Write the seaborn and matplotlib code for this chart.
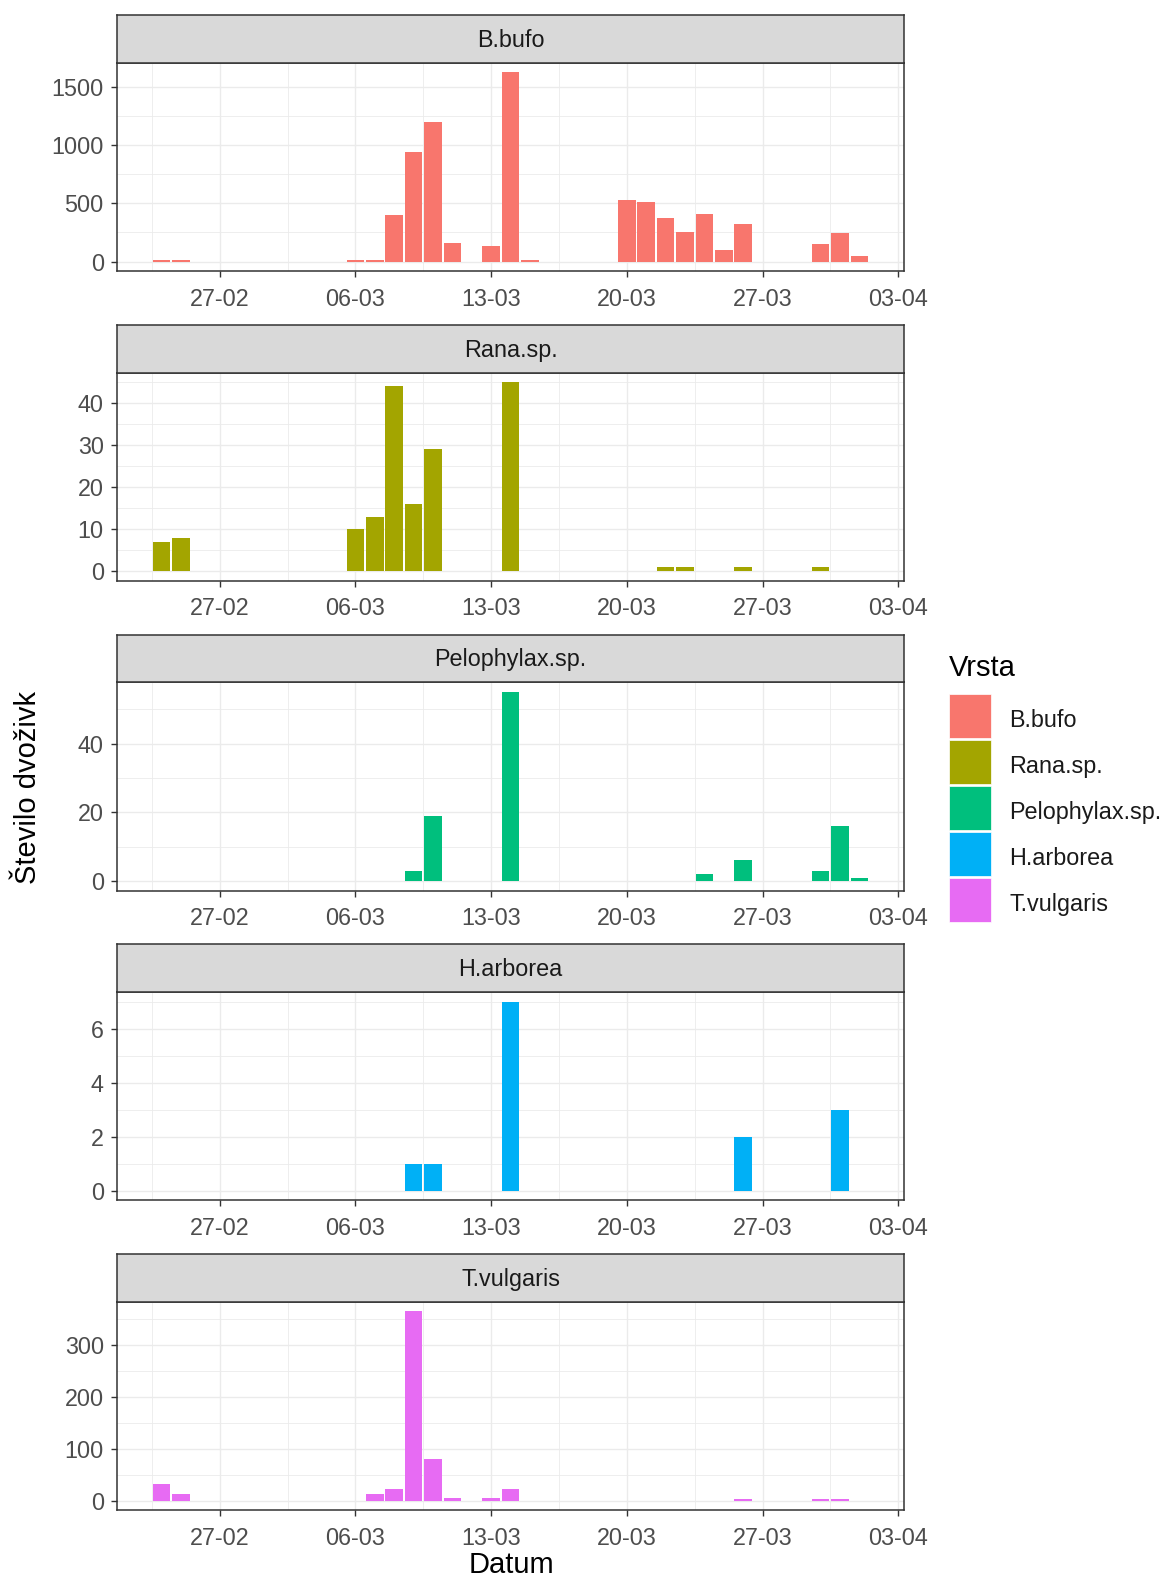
import numpy as np
import pandas as pd
import matplotlib
matplotlib.use('Agg')
import matplotlib.pyplot as plt
import matplotlib.dates as mdates
from matplotlib.patches import Rectangle
from matplotlib.ticker import FixedLocator
import seaborn as sns

# Data: daily counts per species (only non-zero days)
YEAR = 2021
species = ['B.bufo', 'Rana.sp.', 'Pelophylax.sp.', 'H.arborea', 'T.vulgaris']
colors = ['#F8766D', '#A3A500', '#00BF7D', '#00B0F6', '#E76BF3']

bufo_dates = ['24-02', '25-02', '06-03', '07-03', '08-03', '09-03', '10-03', '11-03',
              '13-03', '14-03', '15-03', '20-03', '21-03', '22-03', '23-03', '24-03',
              '25-03', '26-03', '30-03', '31-03', '01-04']
bufo_counts = [17, 17, 12, 12, 395, 940, 1193, 156, 136, 1622, 15, 528, 508, 375, 256,
               409, 102, 324, 153, 241, 51]

rana_dates = ['24-02', '25-02', '06-03', '07-03', '08-03', '09-03', '10-03', '14-03',
              '22-03', '23-03', '26-03', '30-03']
rana_counts = [7, 8, 10, 13, 44, 16, 29, 45, 1, 1, 1, 1]

pelo_dates = ['09-03', '10-03', '14-03', '24-03', '26-03', '30-03', '31-03', '01-04']
pelo_counts = [3, 19, 55, 2, 6, 3, 16, 1]

hyla_dates = ['09-03', '10-03', '14-03', '26-03', '31-03']
hyla_counts = [1, 1, 7, 2, 3]

trit_dates = ['24-02', '25-02', '07-03', '08-03', '09-03', '10-03', '11-03', '13-03',
              '14-03', '26-03', '30-03', '31-03']
trit_counts = [32, 12, 12, 23, 365, 80, 4, 4, 23, 3, 3, 3]

y_ticks = [[0, 500, 1000, 1500], [0, 10, 20, 30, 40], [0, 20, 40], [0, 2, 4, 6],
           [0, 100, 200, 300]]
x_tick_labels = ['27-02', '06-03', '13-03', '20-03', '27-03', '03-04']

all_dates = [bufo_dates, rana_dates, pelo_dates, hyla_dates, trit_dates]
all_counts = [bufo_counts, rana_counts, pelo_counts, hyla_counts, trit_counts]


def to_num(d):
    return mdates.date2num(pd.to_datetime(f'{d}-{YEAR}', format='%d-%m-%Y'))


frames = []
for sp, ds, cs in zip(species, all_dates, all_counts):
    frames.append(pd.DataFrame({'Vrsta': sp, 'x': [to_num(d) for d in ds], 'n': cs}))
df = pd.concat(frames, ignore_index=True)

# shared x range like ggplot (bar width 0.9, 5% expansion)
lo = df['x'].min() - 0.45
hi = df['x'].max() + 0.45
pad = 0.05 * (hi - lo)
xlim = (lo - pad, hi + pad)
x_major = [to_num(d) for d in x_tick_labels]
x_minor = [v - 3.5 for v in x_major] + [x_major[-1] + 3.5]

W, H = 1168, 1582
fig = plt.figure(figsize=(W / 100, H / 100), dpi=100)
plt.rcParams['font.family'] = ['Liberation Sans', 'DejaVu Sans']

TICK = 16.8
TITLE = 21
left, right = 117, 904
for i, sp in enumerate(species):
    stop = 15 + i * 309.75
    ptop = stop + 48
    pbot = ptop + 208
    ax = fig.add_axes([left / W, 1 - pbot / H, (right - left) / W, 208 / H])
    sub = df[df['Vrsta'] == sp]
    sns.barplot(data=sub, x='x', y='n', native_scale=True, width=0.9, color=colors[i],
                saturation=1, linewidth=0, errorbar=None, ax=ax)
    ymax = sub['n'].max()
    ax.set_ylim(-0.05 * ymax, 1.05 * ymax)
    ax.set_xlim(*xlim)
    yt = y_ticks[i]
    step = yt[1] - yt[0]
    ax.yaxis.set_major_locator(FixedLocator(yt))
    ax.yaxis.set_minor_locator(FixedLocator([v + step / 2 for v in yt] + [yt[-1] + 1.5 * step]))
    ax.xaxis.set_major_locator(FixedLocator(x_major))
    ax.xaxis.set_minor_locator(FixedLocator(x_minor))
    ax.set_xticklabels(x_tick_labels)
    ax.grid(which='major', color='#EBEBEB', lw=1.0)
    ax.grid(which='minor', color='#EBEBEB', lw=0.6)
    ax.set_axisbelow(True)
    ax.set_xlabel('')
    ax.set_ylabel('')
    for s in ax.spines.values():
        s.set_color('#333333')
        s.set_linewidth(1.1)
    ax.tick_params(which='major', direction='out', length=4, width=1, color='#333333',
                   labelsize=TICK, labelcolor='#4D4D4D')
    ax.tick_params(axis='x', which='major', pad=8)
    ax.tick_params(axis='y', which='major', pad=5.5)
    ax.tick_params(which='minor', length=0)

    strip = fig.add_axes([left / W, 1 - ptop / H, (right - left) / W, 48 / H])
    strip.set_facecolor('#D9D9D9')
    strip.set_xticks([])
    strip.set_yticks([])
    for s in strip.spines.values():
        s.set_color('#333333')
        s.set_linewidth(1.1)
    strip.text(0.5, 0.47, sp, ha='center', va='center', fontsize=TICK, color='#1A1A1A',
               transform=strip.transAxes)

fig.text(28 / W, 1 - 787 / H, 'Število dvoživk', rotation=90, ha='center', va='center',
         fontsize=TITLE, color='black')
fig.text(511 / W, 1 - 1565 / H, 'Datum', ha='center', va='center', fontsize=TITLE,
         color='black')

# legend
fig.text(949 / W, 1 - 668 / H, 'Vrsta', ha='left', va='center', fontsize=TITLE)
for i, sp in enumerate(species):
    ktop = 694 + i * 46
    fig.patches.append(Rectangle((949 / W, 1 - (ktop + 44) / H), 42 / W, 44 / H,
                                 facecolor=colors[i], edgecolor='white', lw=0.5,
                                 transform=fig.transFigure, figure=fig))
    fig.text(1009 / W, 1 - (ktop + 26) / H, sp, ha='left', va='center', fontsize=TICK,
             color='#1A1A1A')

fig.savefig('out.png', dpi=100, facecolor='white')
